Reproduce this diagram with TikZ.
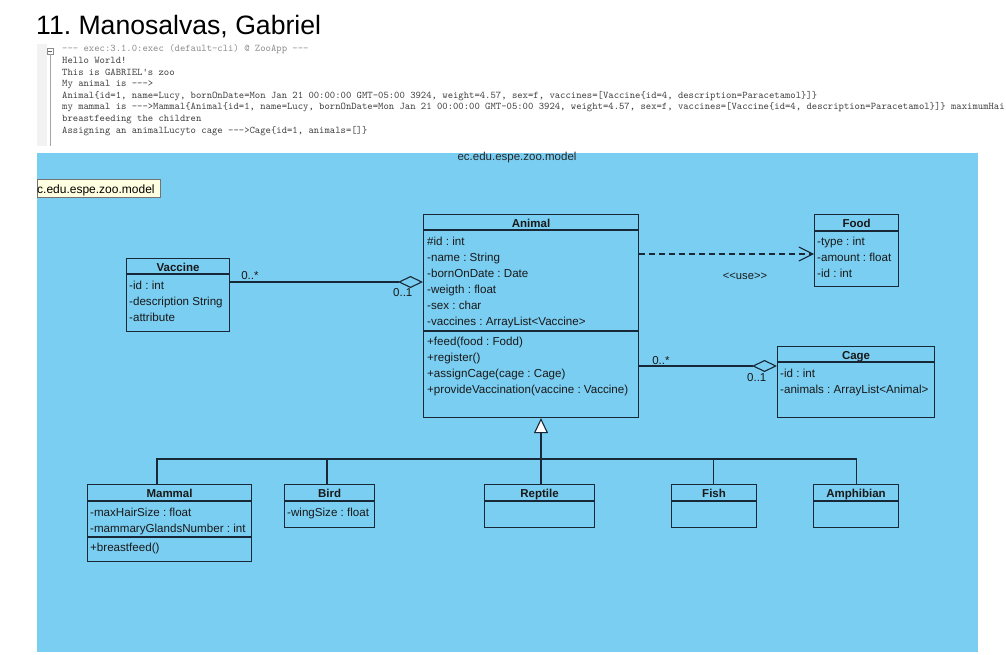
\documentclass[tikz,border=0pt]{standalone}
\usepackage{fontspec}
\setmainfont{Liberation Sans}
\usetikzlibrary{arrows.meta, positioning, calc}
\definecolor{pkgblue}{RGB}{122,206,242}
\definecolor{umlline}{RGB}{25,40,55}
\definecolor{tipyellow}{RGB}{255,255,225}
\frenchspacing

\begin{document}
\begin{tikzpicture}[x=1pt, y=-1pt,
  classbox/.style={draw=umlline, line width=1.1pt, anchor=north west, inner sep=0pt},
  classname/.style={font=\fontsize{11.5}{14}\selectfont\bfseries, anchor=base, inner sep=0pt, text=black!90},
  member/.style={font=\fontsize{11.6}{14}\selectfont, anchor=base west, inner sep=0pt, text=black!90},
  classsep/.style={draw=umlline, line width=1.1pt},
  mult/.style={font=\fontsize{11.5}{14}\selectfont, anchor=base west, inner sep=0pt, text=black!90},
  aggr/.style={draw=umlline, line width=1.1pt, -{Diamond[open, length=25pt, width=12pt]}},
  dep/.style={draw=umlline, line width=1.1pt, dash pattern=on 6pt off 4pt, -{Straight Barb[length=14pt, width=14pt]}},
  gen/.style={draw=umlline, line width=1.1pt, -{Triangle[length=15pt, width=14pt, fill=white]}},
  conn/.style={draw=umlline, line width=1.1pt},
  console/.style={font=\ttfamily\fontsize{10.2}{12}\selectfont, anchor=base west, inner sep=0pt, text=black!75}
]
  \useasboundingbox (0,0) rectangle (1006,655);
  \fill[white] (0,0) rectangle (1006,655);

  % heading and console output
  \node[anchor=base west, inner sep=0pt, font=\fontsize{26.6}{30}\selectfont] (title) at (36,35) {11. Manosalvas, Gabriel};
  \fill[black!5] (37,44) rectangle (47,146);
  \node[draw=black!45, fill=white, minimum size=6pt, inner sep=0pt, line width=0.6pt] (fold) at (50,51) {};
  \draw[black!60, line width=0.6pt] ($(fold.west)+(1.5,0)$) -- ($(fold.east)+(-1.5,0)$);
  \draw[black!35, line width=0.8pt] (fold.south) -- ++(0,92);
  \node[console, text=black!45] (exec) at (62,52) {-{}-{}- exec:3.1.0:exec (default-cli) @ ZooApp -{}-{}-};
  \foreach \s [count=\i] in {
    {Hello World!},
    {This is GABRIEL\textquotesingle s zoo},
    {My animal is -{}-{}->},
    {Animal\{id=1, name=Lucy, bornOnDate=Mon Jan 21 00:00:00 GMT-05:00 3924, weight=4.57, sex=f, vaccines=[Vaccine\{id=4, description=Paracetamol\}]\}},
    {my mammal is -{}-{}->Mammal\{Animal\{id=1, name=Lucy, bornOnDate=Mon Jan 21 00:00:00 GMT-05:00 3924, weight=4.57, sex=f, vaccines=[Vaccine\{id=4, description=Paracetamol\}]\} maximumHai},
    {breastfeeding the children},
    {Assigning an animalLucyto cage -{}-{}->Cage\{id=1, animals=[]\}}}
    \node[console] (out\i) at (62,{52+11.6*\i}) {\s};

  % package
  \node[fill=pkgblue, anchor=north west, minimum width=941pt, minimum height=499pt, inner sep=0pt] (pkg) at (37,153) {};
  \node[font=\fontsize{11.5}{14}\selectfont, anchor=base, inner sep=0pt, text=black!85] (pkgname) at (517,161) {ec.edu.espe.zoo.model};
  \node[draw=black!55, fill=tipyellow, anchor=north west, minimum width=123pt, minimum height=18pt, inner sep=0pt, line width=0.8pt] (tip) at (37,179) {};
  \node[font=\fontsize{12}{14}\selectfont, anchor=base west, inner sep=0pt] (tiptext) at (37,193.5) {c.edu.espe.zoo.model};

  % Vaccine
  \node[classbox, minimum width=103pt, minimum height=73pt] (vaccine) at (126,258) {};
  \node[classname] at ($(vaccine.north)+(0,13.5)$) {Vaccine};
  \draw[classsep] ($(vaccine.north west)+(0,16)$) -- ($(vaccine.north east)+(0,16)$);
  \foreach \m [count=\i] in {-id : int, -description String, -attribute}
    \node[member] at ($(vaccine.north west)+(3,15.5+16*\i)$) {\m};

  % Animal
  \node[classbox, minimum width=215pt, minimum height=203pt] (animal) at (423,214) {};
  \node[classname] at ($(animal.north)+(0,13.5)$) {Animal};
  \draw[classsep] ($(animal.north west)+(0,16)$) -- ($(animal.north east)+(0,16)$);
  \draw[classsep] ($(animal.north west)+(0,117)$) -- ($(animal.north east)+(0,117)$);
  \foreach \m [count=\i] in {\#id : int, -name : String, -bornOnDate : Date, -weigth : float, -sex : char, -vaccines : ArrayList<Vaccine>}
    \node[member] at ($(animal.north west)+(4,15.5+16*\i)$) {\m};
  \foreach \m [count=\i] in {+feed(food : Fodd), +register(), +assignCage(cage : Cage), +provideVaccination(vaccine : Vaccine)}
    \node[member] at ($(animal.north west)+(4,115.5+16*\i)$) {\m};

  % Food
  \node[classbox, minimum width=84pt, minimum height=72pt] (food) at (814,214) {};
  \node[classname] at ($(food.north)+(0,13.5)$) {Food};
  \draw[classsep] ($(food.north west)+(0,17)$) -- ($(food.north east)+(0,17)$);
  \foreach \m [count=\i] in {-type : int, -amount : float, -id : int}
    \node[member] at ($(food.north west)+(3,15.5+16*\i)$) {\m};

  % Cage
  \node[classbox, minimum width=157pt, minimum height=71pt] (cage) at (777,346) {};
  \node[classname] at ($(cage.north)+(0,13.5)$) {Cage};
  \draw[classsep] ($(cage.north west)+(0,16)$) -- ($(cage.north east)+(0,16)$);
  \foreach \m [count=\i] in {-id : int, -animals : ArrayList<Animal>}
    \node[member] at ($(cage.north west)+(3,15.5+16*\i)$) {\m};

  % subclasses
  \node[classbox, minimum width=164pt, minimum height=77pt] (mammal) at (87,484) {};
  \node[classname] at ($(mammal.north)+(0,13.5)$) {Mammal};
  \draw[classsep] ($(mammal.north west)+(0,17)$) -- ($(mammal.north east)+(0,17)$);
  \draw[classsep] ($(mammal.north west)+(0,53)$) -- ($(mammal.north east)+(0,53)$);
  \foreach \m [count=\i] in {-maxHairSize : float, -mammaryGlandsNumber : int}
    \node[member] at ($(mammal.north west)+(3,16+16*\i)$) {\m};
  \node[member] at ($(mammal.north west)+(3,67.5)$) {+breastfeed()};

  \node[classbox, minimum width=90pt, minimum height=43pt] (bird) at (284,484) {};
  \node[classname] at ($(bird.north)+(0,13.5)$) {Bird};
  \draw[classsep] ($(bird.north west)+(0,17)$) -- ($(bird.north east)+(0,17)$);
  \node[member] at ($(bird.north west)+(3,32)$) {-wingSize : float};

  \node[classbox, minimum width=110pt, minimum height=43pt] (reptile) at (484,484) {};
  \node[classname] at ($(reptile.north)+(0,13.5)$) {Reptile};
  \draw[classsep] ($(reptile.north west)+(0,17)$) -- ($(reptile.north east)+(0,17)$);

  \node[classbox, minimum width=85pt, minimum height=43pt] (fish) at (671,484) {};
  \node[classname] at ($(fish.north)+(0,13.5)$) {Fish};
  \draw[classsep] ($(fish.north west)+(0,17)$) -- ($(fish.north east)+(0,17)$);

  \node[classbox, minimum width=85pt, minimum height=43pt] (amphibian) at (813,484) {};
  \node[classname] at ($(amphibian.north)+(0,13.5)$) {Amphibian};
  \draw[classsep] ($(amphibian.north west)+(0,17)$) -- ($(amphibian.north east)+(0,17)$);

  % associations
  \draw[aggr] ($(vaccine.north east)+(0,24)$) coordinate (va) -- (va -| animal.west);
  \node[mult] at ($(va)+(11,-3)$) {0..*};
  \node[mult] at ($(va -| animal.west)+(-30,14)$) {0..1};

  \draw[aggr] ($(animal.north east)+(0,152)$) coordinate (ac) -- (ac -| cage.west);
  \node[mult] at ($(ac)+(13,-2)$) {0..*};
  \node[mult] at ($(ac -| cage.west)+(-30,15)$) {0..1};

  \draw[dep] ($(animal.north east)+(0,40)$) coordinate (af) -- (af -| food.west);
  \node[font=\fontsize{11.2}{14}\selectfont, text=black!90] (use) at (745,276) {<\kern0pt<use>\kern0pt>};

  % inheritance
  \coordinate (bus) at (541,459);
  \draw[gen] (bus) -- (bus |- animal.south);
  \draw[conn] ($(mammal.north west)+(70,0)$) |- (bus);
  \draw[conn] ($(bird.north west)+(43,0)$) |- (bus);
  \draw[conn] (reptile.north -| bus) -- (bus);
  \draw[conn] ($(fish.north)+(-0.5,0)$) |- (bus);
  \draw[conn] ($(amphibian.north)+(0.5,0)$) |- (bus);
\end{tikzpicture}
\end{document}
